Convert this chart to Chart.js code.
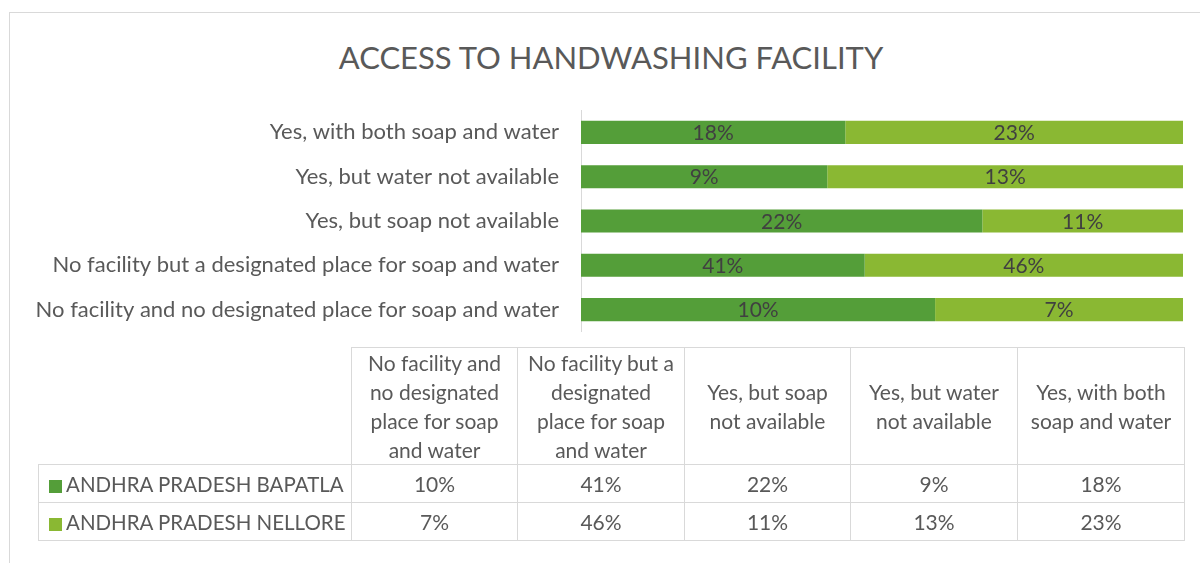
<!DOCTYPE html>
<html>
<head>
<meta charset="utf-8">
<script src="https://cdn.jsdelivr.net/npm/chart.js@4.4.1/dist/chart.umd.min.js"></script>
<style>
  html, body { margin: 0; padding: 0; background: #fff; overflow: hidden; }
  body { width: 1200px; height: 563px; position: relative; font-family: Lato, "Open Sans", sans-serif; color: #595959; }
  #frame { position: absolute; left: 9px; top: 12px; width: 1210px; height: 600px; border: 1px solid #d9d9d9; box-sizing: border-box; }
  #title { position: absolute; left: 22px; width: 1178px; top: 35px; text-align: center; font-size: 31px; font-weight: 400; color: #595959; line-height: 44px; }
  #wrap { position: absolute; left: 0; top: 75px; width: 1200px; height: 292px; }
  #tbl { position: absolute; left: 38px; top: 347px; width: 1146px; border-collapse: collapse; table-layout: fixed; font-size: 21px; color: #595959; }
  #tbl td { border: 1px solid #d9d9d9; text-align: center; vertical-align: middle; padding: 0 8px; }
  #tbl tr.head td { height: 115px; line-height: 29px; }
  #tbl tr.row td { height: 37px; }
  #tbl td.corner { border: none; }
  #tbl td.name { text-align: left; padding-left: 10px; white-space: nowrap; font-size: 20.5px; }
  .key { display: inline-block; width: 13px; height: 13px; margin-right: 4px; vertical-align: -1px; }
</style>
</head>
<body>
<div id="frame"></div>
<div id="title">ACCESS TO HANDWASHING FACILITY</div>
<div id="wrap"><canvas id="chart"></canvas></div>
<table id="tbl"></table>
<script>
// kategoriler tablo sırasıyla (grafikte ters çizilir)
const categories = [
  "No facility and no designated place for soap and water",
  "No facility but a designated place for soap and water",
  "Yes, but soap not available",
  "Yes, but water not available",
  "Yes, with both soap and water"
];
const seriesNames = ["ANDHRA PRADESH BAPATLA", "ANDHRA PRADESH NELLORE"];
const bapatla = [10, 41, 22, 9, 18];
const nellore = [7, 46, 11, 13, 23];
const colors = ["#549E39", "#8AB833"];

// grafik için ters sıra
const labels = categories.slice().reverse();
const bap = bapatla.slice().reverse();
const nel = nellore.slice().reverse();
const share = (a, b) => a.map((v, i) => v / (a[i] + b[i]) * 100);

const barLabels = {
  id: "barLabels",
  afterDatasetsDraw(chart) {
    const ctx = chart.ctx;
    ctx.save();
    ctx.font = "21px Lato, 'Open Sans', sans-serif";
    ctx.fillStyle = "#404040";
    ctx.textAlign = "center";
    ctx.textBaseline = "middle";
    chart.data.datasets.forEach((ds, di) => {
      chart.getDatasetMeta(di).data.forEach((bar, i) => {
        ctx.fillText(ds.raw[i] + "%", (bar.x + bar.base) / 2, bar.y + 1);
      });
    });
    ctx.restore();
  }
};

new Chart(document.getElementById("chart"), {
  type: "bar",
  data: {
    labels,
    datasets: [
      { label: seriesNames[0], data: share(bap, nel), raw: bap, backgroundColor: colors[0] },
      { label: seriesNames[1], data: share(nel, bap), raw: nel, backgroundColor: colors[1] }
    ]
  },
  options: {
    indexAxis: "y",
    responsive: true,
    maintainAspectRatio: false,
    animation: false,
    barPercentage: 0.52,
    categoryPercentage: 1,
    layout: { padding: { top: 0, bottom: 0, right: 17, left: 0 } },
    plugins: { legend: { display: false }, tooltip: { enabled: false } },
    scales: {
      x: { display: false, stacked: true, min: 0, max: 100 },
      y: {
        stacked: true,
        grid: { display: false, drawTicks: false },
        border: { color: "#d9d9d9", width: 1 },
        ticks: { color: "#595959", font: { family: "Lato, 'Open Sans', sans-serif", size: 22 }, padding: 22 },
        afterFit(scale) { scale.width = 581; }
      }
    }
  },
  plugins: [barLabels]
});

// veri tablosu
const tbl = document.getElementById("tbl");
const widths = [313, 166, 167, 166, 167, 167];
let html = "<colgroup>" + widths.map(w => `<col style="width:${w}px">`).join("") + "</colgroup>";
html += '<tr class="head"><td class="corner"></td>' + categories.map(c => `<td>${c}</td>`).join("") + "</tr>";
[bapatla, nellore].forEach((vals, s) => {
  html += `<tr class="row"><td class="name"><span class="key" style="background:${colors[s]}"></span>${seriesNames[s]}</td>` +
    vals.map(v => `<td>${v}%</td>`).join("") + "</tr>";
});
tbl.innerHTML = html;
</script>
</body>
</html>
